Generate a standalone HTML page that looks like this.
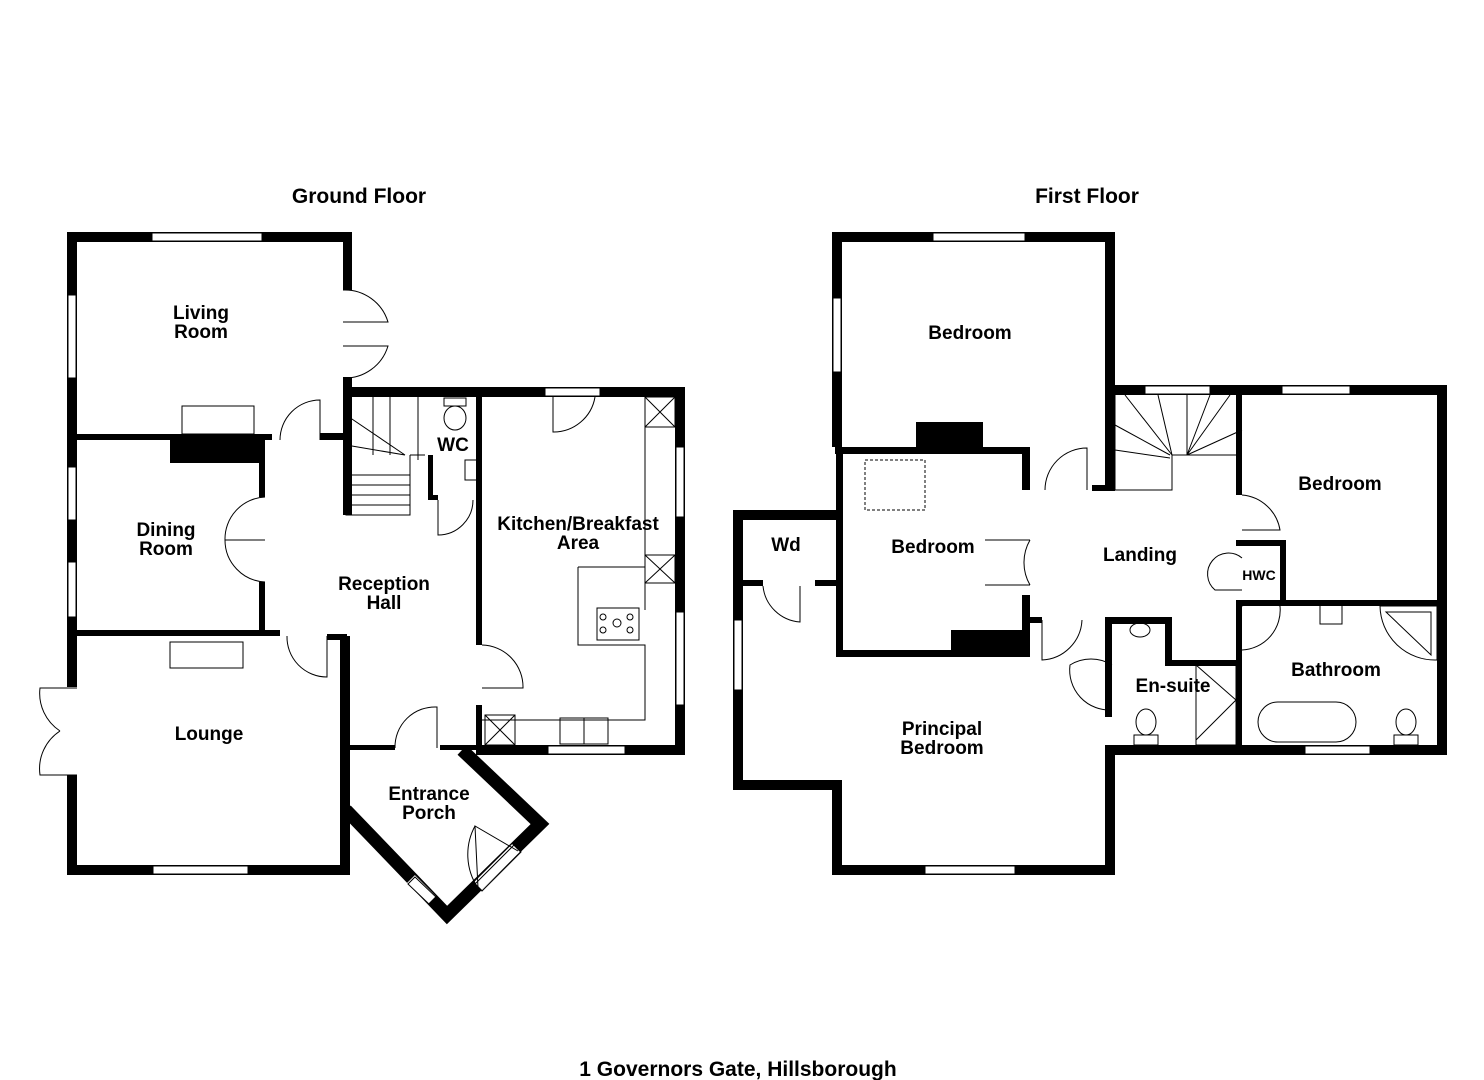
<!DOCTYPE html>
<html><head><meta charset="utf-8"><style>
body{margin:0;background:#fff}
svg{display:block}
text{font-family:"Liberation Sans",Arial,sans-serif;font-weight:bold;fill:#000}
</style></head><body>
<svg width="1484" height="1080" viewBox="0 0 1484 1080" xmlns="http://www.w3.org/2000/svg">
<rect width="1484" height="1080" fill="#fff"/>
<g fill="#000">
<rect x="67" y="232" width="285" height="10"/>
<rect x="67" y="232" width="10" height="455"/>
<rect x="67" y="775" width="10" height="100"/>
<rect x="67" y="865" width="283" height="10"/>
<rect x="343" y="232" width="9" height="58"/>
<rect x="343" y="377" width="9" height="138"/>
<rect x="343" y="387" width="342" height="10"/>
<rect x="675" y="387" width="10" height="368"/>
<rect x="476" y="745" width="209" height="10"/>
<rect x="340" y="636" width="10" height="239"/>
<rect x="77" y="434" width="195" height="6"/>
<rect x="170" y="440" width="92" height="23"/>
<rect x="259" y="440" width="6" height="57"/>
<rect x="259" y="582" width="6" height="54"/>
<rect x="77" y="630" width="203" height="6"/>
<rect x="327" y="634" width="20" height="6"/>
<rect x="320" y="433" width="25" height="7"/>
<rect x="476" y="397" width="6" height="248"/>
<rect x="476" y="705" width="6" height="45"/>
<rect x="428" y="455" width="5" height="45"/>
<rect x="428" y="495" width="10" height="5"/>
<rect x="340" y="745" width="55" height="5"/>
<rect x="440" y="745" width="40" height="5"/>
</g>
<polyline points="346,810 447,915 540,824 462,750" fill="none" stroke="#000" stroke-width="13" stroke-linejoin="miter"/>
<g stroke="#fff" stroke-width="11">
<line x1="411" y1="879" x2="432" y2="900"/>
<line x1="478" y1="886" x2="516" y2="848"/>
</g>
<g fill="none" stroke="#000" stroke-width="1">
<polygon points="408,884 415,877 437,898 430,905"/>
<polygon points="475,884 482,891 521,852 514,845"/>
<path d="M478,888 L475,826 L518,851 M475,826 A60,60 0 0 0 478,888"/>
</g>
<g fill="#000">
<rect x="832" y="232" width="283" height="10"/>
<rect x="832" y="232" width="10" height="215"/>
<rect x="1105" y="232" width="10" height="258"/>
<rect x="1092" y="485" width="23" height="6"/>
<rect x="1105" y="385" width="342" height="10"/>
<rect x="1437" y="385" width="10" height="370"/>
<rect x="1105" y="745" width="342" height="10"/>
<rect x="1105" y="745" width="10" height="130"/>
<rect x="832" y="865" width="283" height="10"/>
<rect x="832" y="780" width="10" height="95"/>
<rect x="733" y="780" width="109" height="10"/>
<rect x="733" y="510" width="10" height="280"/>
<rect x="733" y="510" width="109" height="10"/>
<rect x="835" y="447" width="195" height="7"/>
<rect x="916" y="422" width="67" height="27"/>
<rect x="836" y="447" width="7" height="210"/>
<rect x="836" y="650" width="194" height="7"/>
<rect x="951" y="630" width="79" height="25"/>
<rect x="1022" y="447" width="8" height="43"/>
<rect x="1022" y="595" width="8" height="60"/>
<rect x="1022" y="617" width="20" height="6"/>
<rect x="743" y="580" width="20" height="6"/>
<rect x="815" y="580" width="27" height="6"/>
<rect x="1105" y="617" width="65" height="7"/>
<rect x="1105" y="617" width="7" height="100"/>
<rect x="1165" y="617" width="7" height="48"/>
<rect x="1165" y="660" width="75" height="6"/>
<rect x="1236" y="600" width="6" height="150"/>
<rect x="1236" y="600" width="201" height="6"/>
<rect x="1236" y="385" width="6" height="110"/>
<rect x="1236" y="540" width="50" height="6"/>
<rect x="1280" y="540" width="6" height="65"/>
</g>
<g fill="#fff" stroke="#000" stroke-width="1">
<rect x="152" y="233" width="110" height="8"/>
<rect x="68" y="295" width="8" height="83"/>
<rect x="68" y="467" width="8" height="53"/>
<rect x="68" y="562" width="8" height="55"/>
<rect x="153" y="866" width="95" height="8"/>
<rect x="545" y="388" width="55" height="8"/>
<rect x="676" y="447" width="8" height="70"/>
<rect x="676" y="612" width="8" height="93"/>
<rect x="548" y="746" width="77" height="8"/>
<rect x="933" y="233" width="92" height="8"/>
<rect x="833" y="298" width="8" height="74"/>
<rect x="734" y="620" width="8" height="70"/>
<rect x="925" y="866" width="90" height="8"/>
<rect x="1145" y="386" width="65" height="8"/>
<rect x="1282" y="386" width="68" height="8"/>
<rect x="1305" y="746" width="65" height="8"/>
</g>
<g fill="none" stroke="#000" stroke-width="1">
<rect x="182" y="406" width="72" height="28"/>
<rect x="170" y="642" width="73" height="26"/>
<path d="M343,290 A45,45 0 0 1 388,322 L343,322 M343,378 A45,45 0 0 0 388,346 L343,346"/>
<path d="M265,497 A42,42 0 0 0 225,540 L265,540 M265,582 A42,42 0 0 1 225,540"/>
<path d="M280,440 A40,40 0 0 1 320,400 L320,440"/>
<path d="M287,636 A40,40 0 0 0 327,677 L327,636"/>
<path d="M482,645 A42,42 0 0 1 523,688 L482,688"/>
<path d="M395,748 A40,40 0 0 1 437,707 L437,748"/>
<path d="M553,397 L553,432 A42,42 0 0 0 595,397"/>
<path d="M438,500 L438,535 A35,35 0 0 0 473,500"/>
<path d="M77,688 L40,688 A45,45 0 0 0 60,731 M77,775 L40,775 A45,45 0 0 1 60,731"/>
<path d="M346,397 L346,515 L410,515 L410,455 M346,475 L410,475 M346,485 L410,485 M346,495 L410,495 M346,505 L410,505 M373,397 L373,455 M390,397 L390,455 M346,415 L405,455 M346,445 L405,455 M418,397 L418,460 M410,455 L425,455"/>
<ellipse cx="455" cy="418" rx="11" ry="12"/>
<rect x="444" y="398" width="22" height="8"/>
<rect x="465" y="460" width="12" height="20"/>
<rect x="645" y="397" width="30" height="30"/><path d="M645,397 L675,427 M675,397 L645,427"/>
<rect x="645" y="555" width="30" height="28"/><path d="M645,555 L675,583 M675,555 L645,583"/>
<rect x="485" y="715" width="30" height="30"/><path d="M485,715 L515,745 M515,715 L485,745"/>
<path d="M645,397 L645,567 M645,567 L645,610 M578,567 L645,567 L645,610 M578,567 L578,645 L645,645 L645,720 L482,720"/>
<rect x="597" y="608" width="42" height="32"/>
<circle cx="603" cy="617" r="3"/><circle cx="630" cy="617" r="3"/><circle cx="617" cy="623" r="4"/><circle cx="603" cy="630" r="3"/><circle cx="630" cy="630" r="3"/>
<rect x="560" y="718" width="48" height="26"/><path d="M584,718 L584,744"/>
<rect x="865" y="460" width="60" height="50" stroke-dasharray="3,2"/>
<path d="M1045,490 A42,42 0 0 1 1087,448 L1087,490"/>
<path d="M1030,540 A45,45 0 0 0 1030,585 M1030,540 L985,540 M1030,585 L985,585" />
<path d="M1042,620 L1042,660 A42,42 0 0 0 1082,620"/>
<path d="M1112,665 A40,40 0 0 0 1070,665 A40,40 0 0 0 1112,710"/>
<path d="M763,586 A40,40 0 0 0 800,622 L800,586"/>
<path d="M1242,495 A42,42 0 0 1 1280,530 L1242,530"/>
<path d="M1242,558 A20,20 0 0 0 1215,590 L1242,590"/>
<path d="M1242,606 A40,40 0 0 1 1280,606 A40,40 0 0 1 1242,650"/>
<path d="M1115,395 L1115,490 L1172,490 L1172,455 M1125,395 L1172,455 M1115,425 L1170,455 M1115,450 L1170,458 M1158,395 L1172,455 M1187,395 L1187,455 L1242,455 M1187,455 L1242,430 M1187,455 L1210,395 M1187,455 L1230,395 M1172,455 L1187,455"/>
<ellipse cx="1140" cy="630" rx="10" ry="7"/>
<ellipse cx="1146" cy="722" rx="10" ry="13"/><rect x="1134" y="735" width="24" height="10"/>
<rect x="1196" y="665" width="40" height="80"/><path d="M1196,665 L1236,700 L1196,740"/>
<rect x="1320" y="604" width="22" height="20"/>
<path d="M1380,606 L1437,606 L1437,660 A55,55 0 0 1 1380,606"/><path d="M1386,612 L1431,612 L1431,655 Z"/>
<rect x="1258" y="702" width="98" height="40" rx="20"/>
<ellipse cx="1406" cy="722" rx="10" ry="13"/><rect x="1394" y="735" width="24" height="10"/>
</g>
<g font-size="19" text-anchor="middle">
<text x="201" y="319">Living</text><text x="201" y="338">Room</text>
<text x="166" y="536">Dining</text><text x="166" y="555">Room</text>
<text x="384" y="590">Reception</text><text x="384" y="609">Hall</text>
<text x="453" y="451">WC</text>
<text x="578" y="530">Kitchen/Breakfast</text><text x="578" y="549">Area</text>
<text x="209" y="740">Lounge</text>
<text x="429" y="800">Entrance</text><text x="429" y="819">Porch</text>
<text x="970" y="339">Bedroom</text>
<text x="933" y="553">Bedroom</text>
<text x="786" y="551">Wd</text>
<text x="1140" y="561">Landing</text>
<text x="1340" y="490">Bedroom</text>
<text x="1336" y="676">Bathroom</text>
<text x="1173" y="692">En-suite</text>
<text x="942" y="735">Principal</text><text x="942" y="754">Bedroom</text>
</g>
<g font-size="21" text-anchor="middle">
<text x="359" y="203">Ground Floor</text>
<text x="1087" y="203">First Floor</text>
<text x="738" y="1076">1 Governors Gate, Hillsborough</text>
</g>
<text x="1259" y="580" font-size="14" text-anchor="middle">HWC</text>
</svg>
</body></html>
